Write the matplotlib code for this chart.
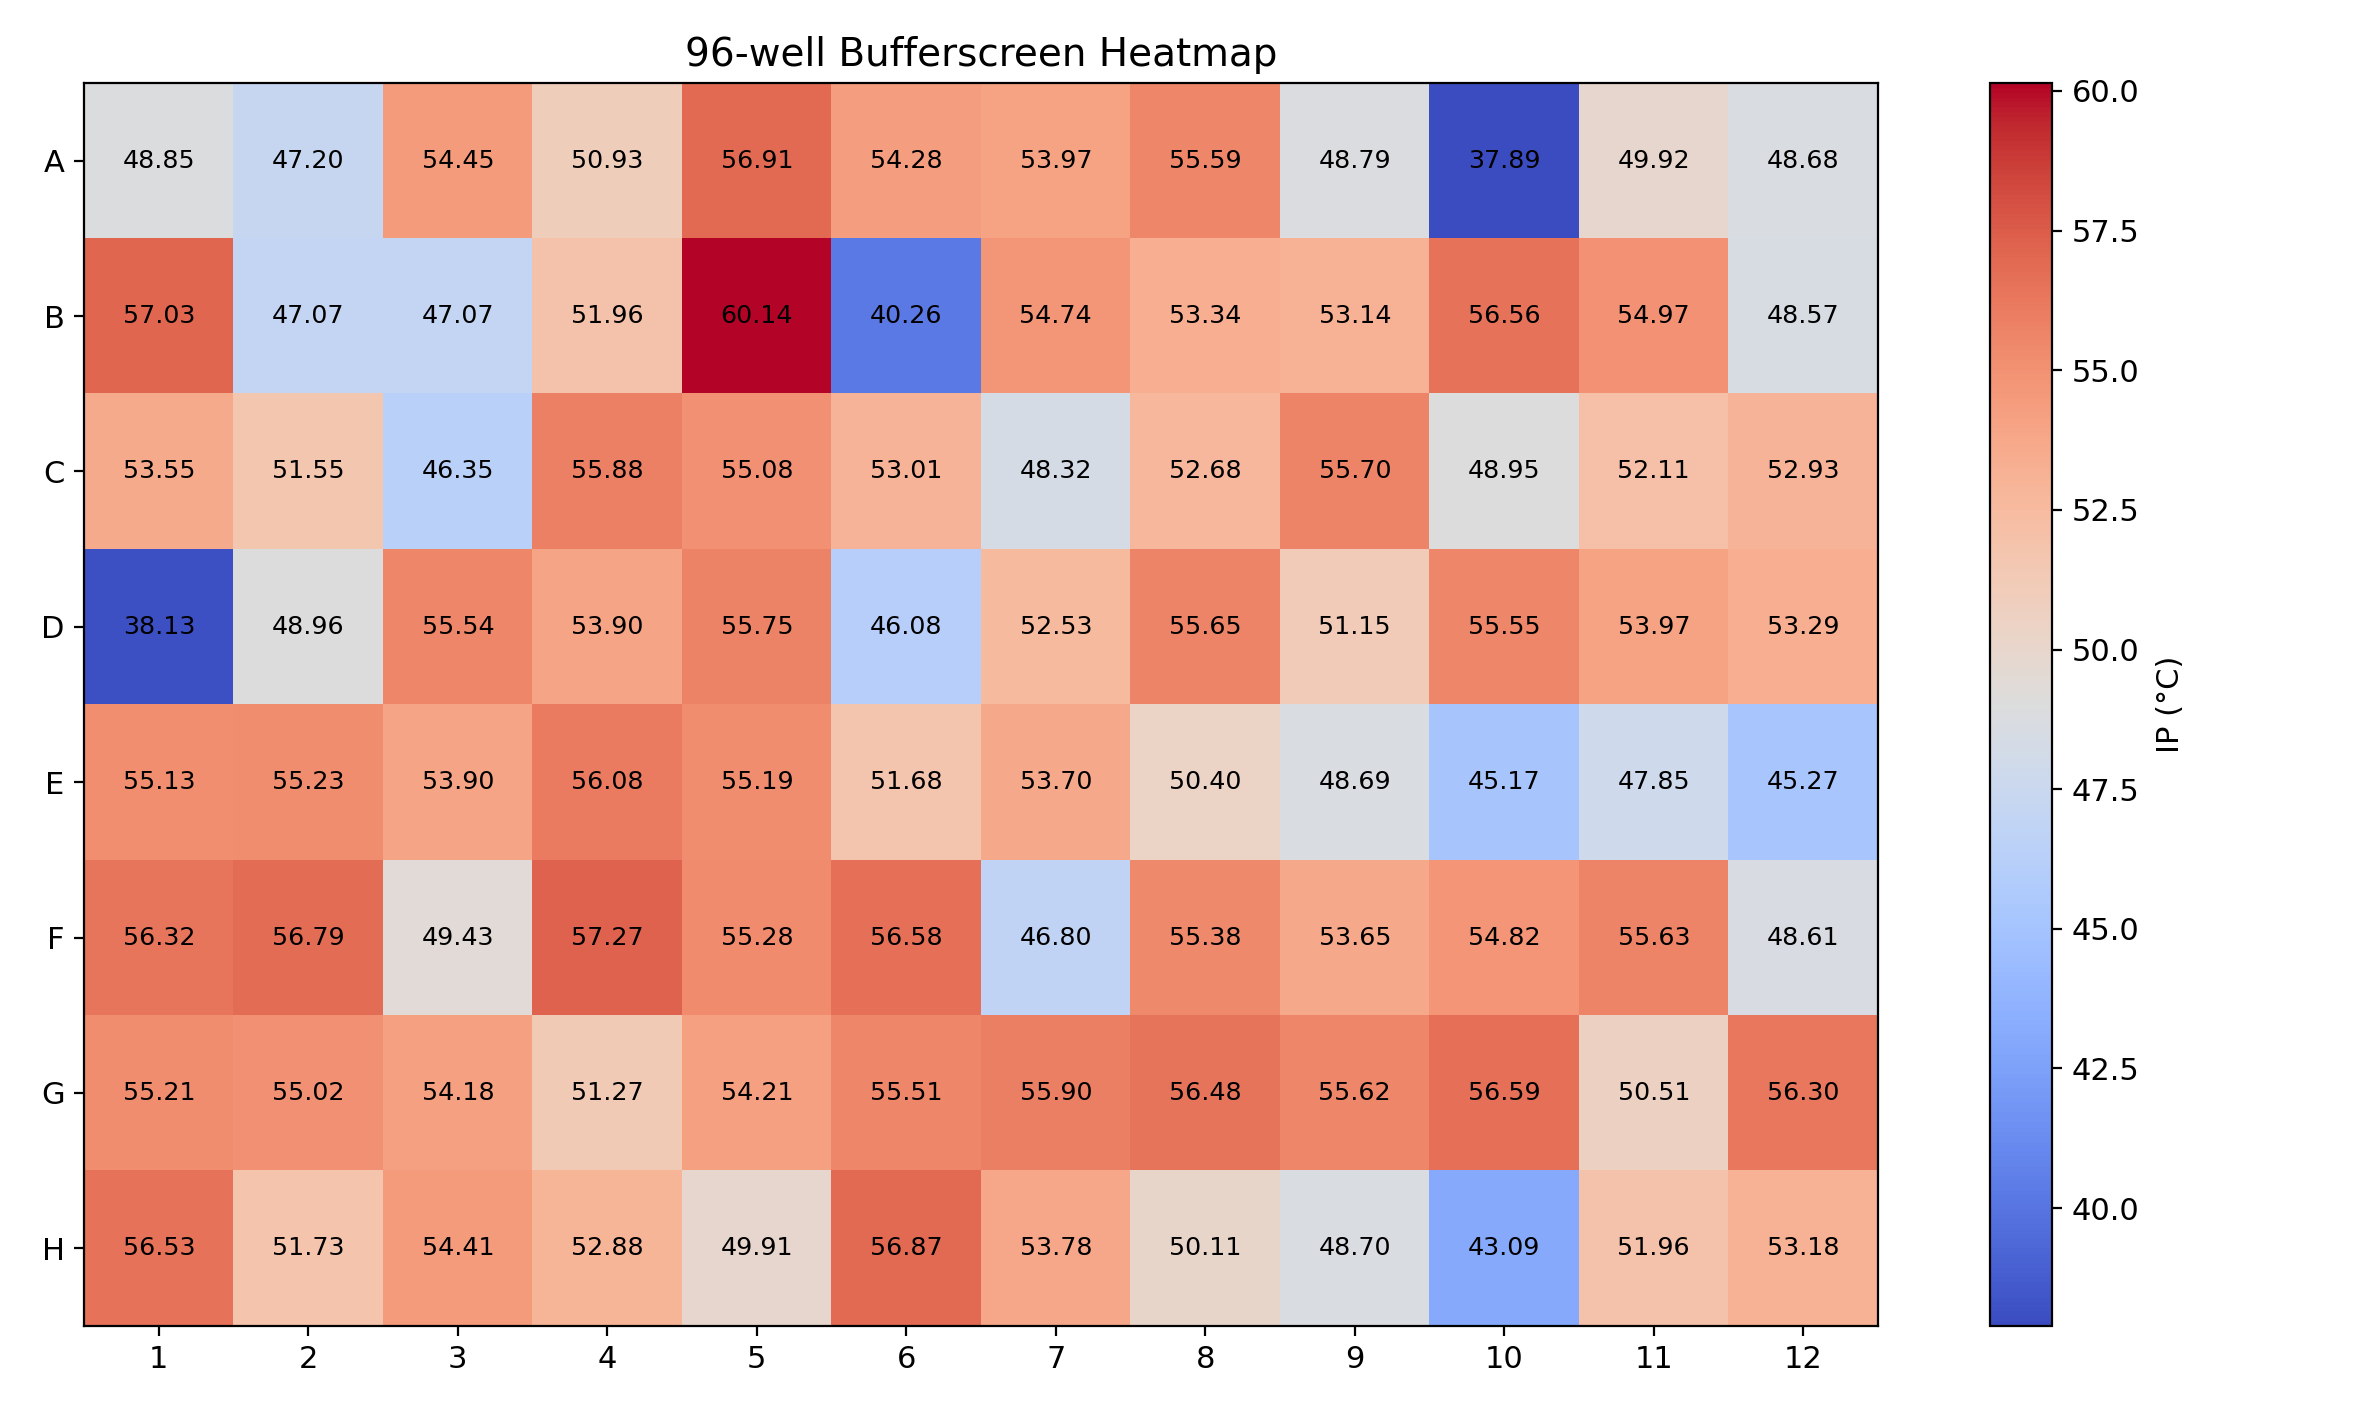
import numpy as np
import matplotlib
matplotlib.use("Agg")
import matplotlib.pyplot as plt

plt.rcParams["font.size"] = 11

rows = ["A", "B", "C", "D", "E", "F", "G", "H"]
cols = [str(i) for i in range(1, 13)]

rowA = [48.85, 47.20, 54.45, 50.93, 56.91, 54.28, 53.97, 55.59, 48.79, 37.89, 49.92, 48.68]
rowB = [57.03, 47.07, 47.07, 51.96, 60.14, 40.26, 54.74, 53.34, 53.14, 56.56, 54.97, 48.57]
rowC = [53.55, 51.55, 46.35, 55.88, 55.08, 53.01, 48.32, 52.68, 55.70, 48.95, 52.11, 52.93]
rowD = [38.13, 48.96, 55.54, 53.90, 55.75, 46.08, 52.53, 55.65, 51.15, 55.55, 53.97, 53.29]
rowE = [55.13, 55.23, 53.90, 56.08, 55.19, 51.68, 53.70, 50.40, 48.69, 45.17, 47.85, 45.27]
rowF = [56.32, 56.79, 49.43, 57.27, 55.28, 56.58, 46.80, 55.38, 53.65, 54.82, 55.63, 48.61]
rowG = [55.21, 55.02, 54.18, 51.27, 54.21, 55.51, 55.90, 56.48, 55.62, 56.59, 50.51, 56.30]
rowH = [56.53, 51.73, 54.41, 52.88, 49.91, 56.87, 53.78, 50.11, 48.70, 43.09, 51.96, 53.18]

data = np.array([rowA, rowB, rowC, rowD, rowE, rowF, rowG, rowH])

fig = plt.figure(figsize=(11.81, 7.085), dpi=200)
ax = fig.add_axes([0.0356, 0.0642, 0.7595, 0.8772])
cax = fig.add_axes([0.8425, 0.0642, 0.02625, 0.8772])

im = ax.imshow(data, cmap="coolwarm", aspect="auto")

ax.set_xticks(range(len(cols)))
ax.set_xticklabels(cols)
ax.set_yticks(range(len(rows)))
ax.set_yticklabels(rows)

for i in range(len(rows)):
    for j in range(len(cols)):
        ax.text(j, i, f"{data[i, j]:.2f}", ha="center", va="center", color="black", fontsize="small")

ax.set_title("96-well Bufferscreen Heatmap", fontsize=14)

cbar = fig.colorbar(im, cax=cax)
cbar.set_label("IP (°C)", labelpad=6)

fig.savefig("out.png", dpi=200)
